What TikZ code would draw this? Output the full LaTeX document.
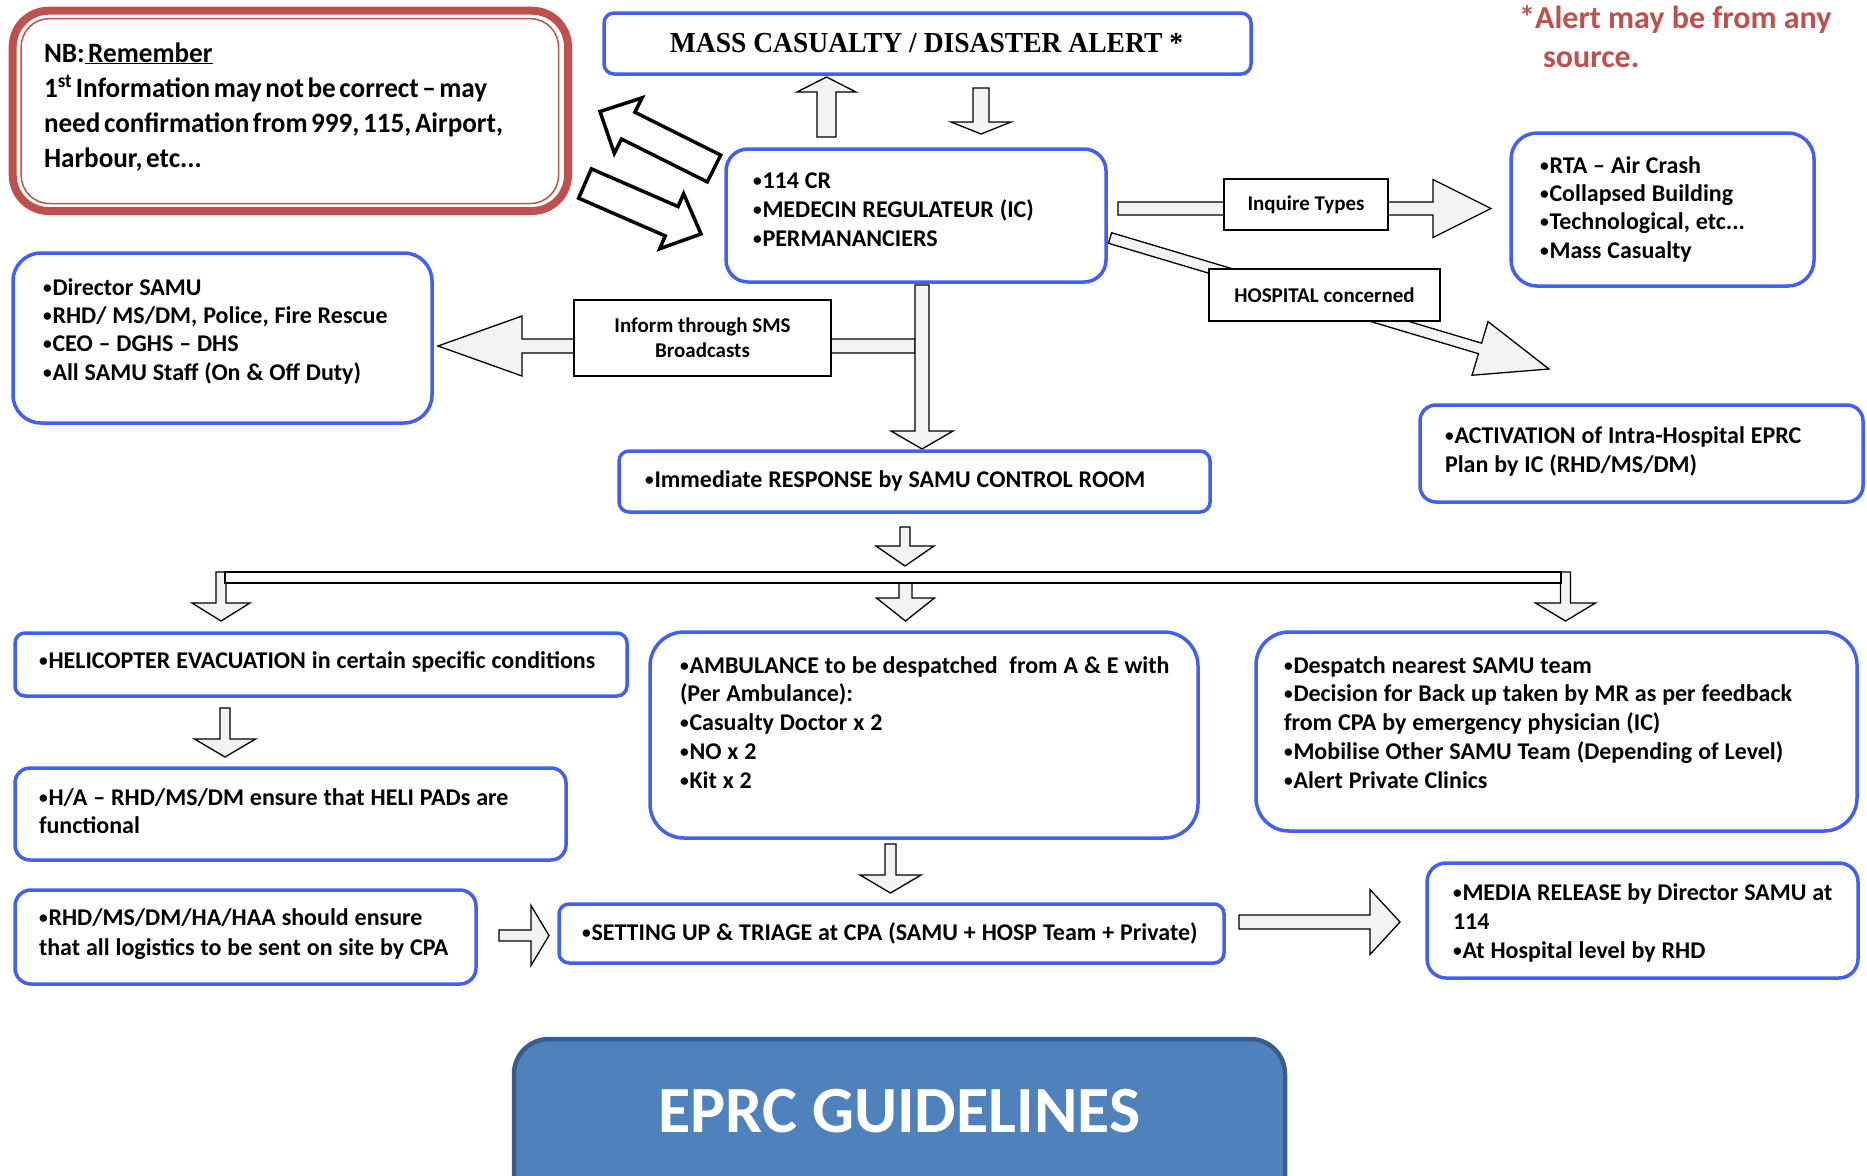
\documentclass[tikz,border=0pt]{standalone}
\usepackage{fontspec}
\setmainfont{Carlito}
\newfontfamily\notefont{Carlito}
\newfontfamily\nbfont{Carlito}[FakeStretch=0.97]
\newfontfamily\titlefont{Liberation Serif}[FakeStretch=0.95]
\usetikzlibrary{calc}
\definecolor{bbl}{RGB}{65,95,240}
\definecolor{nbred}{RGB}{192,80,77}
\definecolor{eprcfill}{RGB}{79,129,189}
\definecolor{eprcdraw}{RGB}{56,93,138}
\definecolor{arrfill}{RGB}{243,243,243}
\newcommand{\bul}{\makebox[9.5pt][l]{\raisebox{2pt}{\fontsize{17.5}{17.5}\selectfont •}}}
\newskip\narrowsp
\narrowsp=5.9pt plus 1pt minus 0.5pt
\newskip\nbsp
\nbsp=3.6pt plus 1pt minus 0.5pt
\newcommand{\nsp}{\spaceskip=\narrowsp}
\newcommand{\nbsk}{\spaceskip=\nbsp}
\tikzset{
  bluebox/.style={draw=bbl, line width=3.5pt, fill=white, rounded corners=#1, anchor=north west, inner sep=0pt, outer sep=0pt},
  bluebox/.default=10pt,
  blackbox/.style={draw=black, line width=2pt, fill=white, anchor=north west, inner sep=0pt, outer sep=0pt, align=center, font=\notefont\bfseries\fontsize{21}{25}\selectfont},
  txt/.style={anchor=base west, inner sep=0pt, outer sep=0pt, text width=900pt, align=left, font=\bfseries\fontsize{24}{28.8}\selectfont},
  blkarrow/.style={draw=black, line width=1.3pt, fill=arrfill, line join=miter},
  thickarrow/.style={draw=black, line width=3.5pt, fill=white, line join=miter},
}
\newcommand{\blockarrow}[6][]{%
  \coordinate (bahead) at ($(#3)!#6!(#2)$);
  \draw[blkarrow,#1] ($(#2)!#4!90:(#3)$) -- ($(bahead)!#4!90:(#3)$) -- ($(bahead)!#5!90:(#3)$) -- (#3) -- ($(bahead)!#5!-90:(#3)$) -- ($(bahead)!#4!-90:(#3)$) -- ($(#2)!#4!-90:(#3)$) -- cycle;
}
\begin{document}
\begin{tikzpicture}[x=1pt,y=-1pt]
\useasboundingbox (0,0) rectangle (1867,1175);
\clip (0,0) rectangle (1867,1175);

% ---------- arrow end points ----------
\coordinate (a1t) at (826.5,137);  \coordinate (a1h) at (826.5,77);
\coordinate (a2t) at (981,88);     \coordinate (a2h) at (981,134);
\coordinate (a3t) at (714,168.5);  \coordinate (a3h) at (600,111.5);
\coordinate (a4t) at (585,183.5);  \coordinate (a4h) at (701,234);
\coordinate (a5t) at (1118,208.5); \coordinate (a5h) at (1491,208.5);
\coordinate (a6t) at (1110,238);   \coordinate (a6h) at (1549,369);
\coordinate (a7t) at (922,285);    \coordinate (a7h) at (922,449);
\coordinate (a8t) at (915,346);    \coordinate (a8h) at (438,346);
\coordinate (a9t) at (905,527);    \coordinate (a9h) at (905,566);
\coordinate (a10t) at (221,572);   \coordinate (a10h) at (221,621);
\coordinate (a11t) at (905.5,583); \coordinate (a11h) at (905.5,621);
\coordinate (a12t) at (1565.5,572);\coordinate (a12h) at (1565.5,621);
\coordinate (a13t) at (225,708);   \coordinate (a13h) at (225,757);
\coordinate (a14t) at (890.5,844); \coordinate (a14h) at (890.5,893);
\coordinate (a15t) at (499,935.5); \coordinate (a15h) at (549,935.5);
\coordinate (a16t) at (1239,922);  \coordinate (a16h) at (1400,922);

% ---------- block arrows ----------
\blockarrow{a1t}{a1h}{9.5pt}{29.5pt}{15pt}
\blockarrow{a2t}{a2h}{8pt}{30pt}{12pt}
\blockarrow[thickarrow]{a3t}{a3h}{15pt}{31pt}{31.5pt}
\blockarrow[thickarrow]{a4t}{a4h}{16pt}{30pt}{32pt}
\blockarrow{a5t}{a5h}{6.5pt}{29pt}{58pt}
\blockarrow{a6t}{a6h}{5.5pt}{28pt}{72pt}
\blockarrow{a8t}{a8h}{7pt}{30pt}{84pt}
\blockarrow{a7t}{a7h}{7pt}{31pt}{18pt}
\blockarrow{a9t}{a9h}{5pt}{29pt}{20pt}
\blockarrow{a10t}{a10h}{5pt}{29pt}{18pt}
\blockarrow{a11t}{a11h}{6.5pt}{29pt}{23pt}
\blockarrow{a12t}{a12h}{5pt}{30pt}{18pt}
\blockarrow{a13t}{a13h}{5pt}{30.5pt}{18pt}
\blockarrow{a14t}{a14h}{5.5pt}{30.5pt}{18pt}
\blockarrow{a15t}{a15h}{5.5pt}{30pt}{18pt}
\blockarrow{a16t}{a16h}{7pt}{32.5pt}{30pt}

% distribution bar
\node[draw, line width=2.2pt, fill=white, minimum width=1336pt, minimum height=11pt, anchor=north west, inner sep=0pt, outer sep=0pt] (bar) at (225,572) {};

% ---------- NB box ----------
\node[draw=nbred, line width=8pt, rounded corners=36pt, fill=white, minimum width=555.3pt, minimum height=200.3pt, anchor=north west, inner sep=0pt, outer sep=0pt] (nb) at (12.7,10.7) {};
\draw[nbred, line width=1.5pt, rounded corners=28pt] ($(nb.north west)+(8.5,8)$) rectangle ($(nb.south east)+(-9.5,-7.5)$);
\node[txt, font=\nbfont\bfseries\fontsize{28}{35}\selectfont] (nbt) at (44,62) {\nbsk NB:\underline{ Remember}\\1\textsuperscript{st} Information may not be correct – may\\need confirmation from 999, 115, Airport,\\Harbour, etc...};

% ---------- title ----------
\node[bluebox=10pt, minimum width=647pt, minimum height=61pt] (mass) at (604,13) {};
\node[anchor=base, inner sep=0pt, font=\titlefont\bfseries\fontsize{29}{34}\selectfont] (masst) at (926.5,52) {MASS CASUALTY / DISASTER ALERT *};

\node[anchor=base west, inner sep=0pt, text=nbred, font=\notefont\bfseries\fontsize{32}{39}\selectfont] (note1) at (1519,28) {*Alert may be from any};
\node[anchor=base west, inner sep=0pt, text=nbred, font=\notefont\bfseries\fontsize{32}{39}\selectfont] (note2) at (1543,67) {source.};

% ---------- boxes ----------
\node[bluebox=22pt, minimum width=380pt, minimum height=133pt] (cr) at (726,149) {};
\node[txt, font=\bfseries\fontsize{24}{29}\selectfont] (crt) at (753,188) {\nsp\bul 114 CR\\\bul MEDECIN REGULATEUR (IC)\\\bul PERMANANCIERS};

\node[blackbox, minimum width=164pt, minimum height=51pt] (inq) at (1224,179) {Inquire Types};
\node[blackbox, minimum width=231pt, minimum height=52pt] (hosp) at (1209,269) {HOSPITAL concerned};
\node[blackbox, minimum width=257pt, minimum height=76pt] (sms) at (574,300) {Inform through SMS\\Broadcasts};

\node[bluebox=26pt, minimum width=303pt, minimum height=153pt] (rta) at (1511,133) {};
\node[txt, font=\bfseries\fontsize{24}{28.4}\selectfont] (rtat) at (1540,173) {\nsp\bul RTA – Air Crash\\\bul Collapsed Building\\\bul Technological, etc...\\\bul Mass Casualty};

\node[bluebox=16pt, minimum width=443pt, minimum height=97pt] (act) at (1420,405) {};
\node[txt, font=\bfseries\fontsize{24}{29}\selectfont] (actt) at (1445,443) {\nsp\bul ACTIVATION of Intra-Hospital EPRC\\Plan by IC (RHD/MS/DM)};

\node[bluebox=28pt, minimum width=419pt, minimum height=170pt] (dir) at (13,253) {};
\node[txt, font=\bfseries\fontsize{24}{28.4}\selectfont] (dirt) at (43,295) {\nsp\bul Director SAMU\\\bul RHD/ MS/DM, Police, Fire Rescue\\\bul CEO – DGHS – DHS\\\bul All SAMU Staff (On \& Off Duty)};

\node[bluebox=10pt, minimum width=591pt, minimum height=61pt] (imm) at (619,451) {};
\node[txt] (immt) at (645,487) {\nsp\bul Immediate RESPONSE by SAMU CONTROL ROOM};

\node[bluebox=10pt, minimum width=612pt, minimum height=63pt] (heli) at (15,633) {};
\node[txt] (helit) at (39,668) {\nsp\bul HELICOPTER EVACUATION in certain specific conditions};

\node[bluebox=15pt, minimum width=551pt, minimum height=92pt] (ha) at (15,768) {};
\node[txt, font=\bfseries\fontsize{24}{28}\selectfont] (hat) at (39,805) {\nsp\bul H/A – RHD/MS/DM ensure that HELI PADs are\\functional};

\node[bluebox=16pt, minimum width=461pt, minimum height=94pt] (rhd) at (15,890) {};
\node[txt, font=\bfseries\fontsize{24}{30}\selectfont] (rhdt) at (39,925) {\nsp\bul RHD/MS/DM/HA/HAA should ensure\\that all logistics to be sent on site by CPA};

\node[bluebox=34pt, minimum width=548pt, minimum height=206pt] (amb) at (650,632) {};
\node[txt] (ambt) at (680,673) {\nsp\bul AMBULANCE to be despatched\ \ from A \& E with\\(Per Ambulance):\\\bul Casualty Doctor x 2\\\bul NO x 2\\\bul Kit x 2};

\node[bluebox=33pt, minimum width=601pt, minimum height=199pt] (desp) at (1256,632) {};
\node[txt] (despt) at (1284,673) {\nsp\bul Despatch nearest SAMU team\\\bul Decision for Back up taken by MR as per feedback\\from CPA by emergency physician (IC)\\\bul Mobilise Other SAMU Team (Depending of Level)\\\bul Alert Private Clinics};

\node[bluebox=10pt, minimum width=665pt, minimum height=59pt] (set) at (559,904) {};
\node[txt] (sett) at (582,940) {\nsp\bul SETTING UP \& TRIAGE at CPA (SAMU + HOSP Team + Private)};

\node[bluebox=19pt, minimum width=431pt, minimum height=115pt] (media) at (1427,863) {};
\node[txt, font=\bfseries\fontsize{24}{29}\selectfont] (mediat) at (1453,900) {\nsp\bul MEDIA RELEASE by Director SAMU at\\114\\\bul At Hospital level by RHD};

% ---------- EPRC banner ----------
\node[draw=eprcdraw, line width=4.5pt, fill=eprcfill, rounded corners=35pt, minimum width=771pt, minimum height=200pt, anchor=north west, inner sep=0pt, outer sep=0pt] (eprc) at (514,1039) {};
\node[anchor=base, inner sep=0pt, text=white, font=\notefont\bfseries\fontsize{66}{70}\selectfont] (eprct) at (899.5,1132) {EPRC GUIDELINES};
\end{tikzpicture}
\end{document}
